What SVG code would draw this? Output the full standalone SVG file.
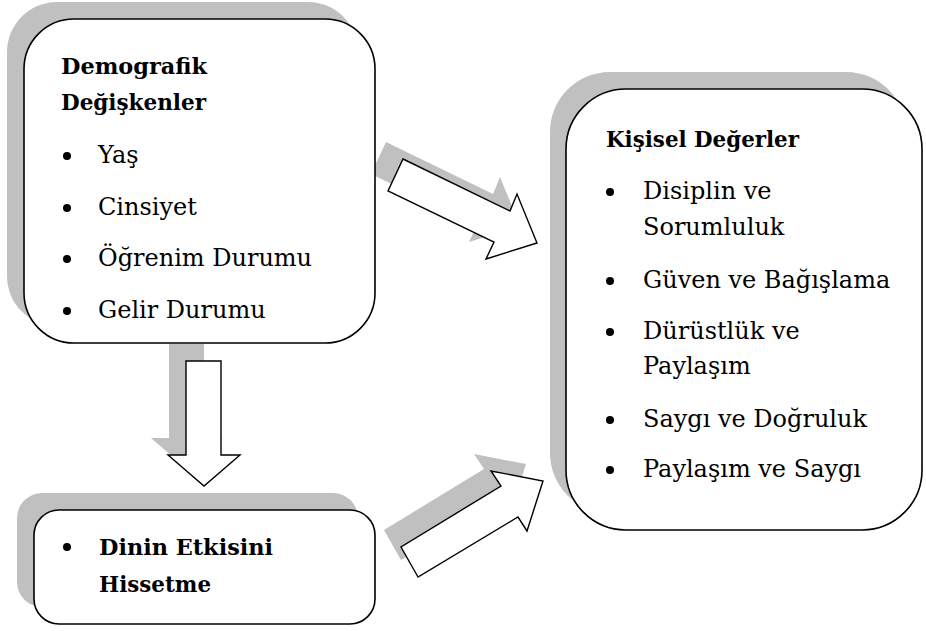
<svg xmlns="http://www.w3.org/2000/svg" width="926" height="631" viewBox="0 0 926 631">
<defs>
<style>
.shadow{fill:#c0c0c0;stroke:none}
.box{fill:#ffffff;stroke:#000000;stroke-width:1.6}
.arrow{fill:#ffffff;stroke:#000000;stroke-width:1.4;stroke-linejoin:miter}
.t{font-family:"DejaVu Serif","Liberation Serif",serif;font-size:24px;fill:#000000}
.b{font-family:"DejaVu Serif","Liberation Serif",serif;font-size:22px;font-weight:bold;fill:#000000}
.dot{fill:#000000}
</style>
<polygon id="a1" points="403,159 510,211 517,194 537,243 486,259 494,242 388,191"/>
<polygon id="a2" points="418,577 401,547 501,486 491,471 543,481 527,531 518,517"/>
<polygon id="a3" points="186,361 221,361 221,455 240,455 204,486 168,455 186,455"/>
</defs>
<rect width="926" height="631" fill="#ffffff"/>
<g id="shadows">
<rect class="shadow" x="7" y="2" width="351" height="324" rx="50"/>
<rect class="shadow" x="550" y="72" width="356" height="441" rx="60"/>
<rect class="shadow" x="17" y="493" width="341" height="114" rx="25"/>
<use href="#a1" class="shadow" transform="translate(-17,-17)"/>
<use href="#a2" class="shadow" transform="translate(-17,-17)"/>
<use href="#a3" class="shadow" transform="translate(-17,-17)"/>
</g>
<g id="node-demografik">
<rect class="box" x="24" y="19" width="351" height="324" rx="50"/>
<text class="b" x="61" y="74" textLength="146" lengthAdjust="spacingAndGlyphs">Demografik</text>
<text class="b" x="61" y="110" textLength="145" lengthAdjust="spacingAndGlyphs">Değişkenler</text>
<circle class="dot" cx="67" cy="156" r="4"/>
<text class="t" x="98" y="163">Yaş</text>
<circle class="dot" cx="67" cy="208" r="4"/>
<text class="t" x="98" y="215">Cinsiyet</text>
<circle class="dot" cx="67" cy="259" r="4"/>
<text class="t" x="98" y="266">Öğrenim Durumu</text>
<circle class="dot" cx="67" cy="311" r="4"/>
<text class="t" x="98" y="318">Gelir Durumu</text>
</g>
<g id="node-kisisel">
<rect class="box" x="566" y="89" width="356" height="441" rx="60"/>
<text class="b" x="606" y="147" textLength="193" lengthAdjust="spacingAndGlyphs">Kişisel Değerler</text>
<circle class="dot" cx="610" cy="192" r="4"/>
<text class="t" x="643" y="199">Disiplin ve</text>
<text class="t" x="643" y="235">Sorumluluk</text>
<circle class="dot" cx="610" cy="281" r="4"/>
<text class="t" x="643" y="288">Güven ve Bağışlama</text>
<circle class="dot" cx="610" cy="332" r="4"/>
<text class="t" x="643" y="339">Dürüstlük ve</text>
<text class="t" x="643" y="374">Paylaşım</text>
<circle class="dot" cx="610" cy="420" r="4"/>
<text class="t" x="643" y="427">Saygı ve Doğruluk</text>
<circle class="dot" cx="610" cy="470" r="4"/>
<text class="t" x="643" y="477">Paylaşım ve Saygı</text>
</g>
<g id="node-dinin">
<rect class="box" x="34" y="510" width="341" height="114" rx="25"/>
<circle class="dot" cx="67" cy="547" r="4"/>
<text class="b" x="99" y="555" textLength="174" lengthAdjust="spacingAndGlyphs">Dinin Etkisini</text>
<text class="b" x="99" y="592" textLength="112" lengthAdjust="spacingAndGlyphs">Hissetme</text>
</g>
<g id="connectors">
<use href="#a1" class="arrow"/>
<use href="#a2" class="arrow"/>
<use href="#a3" class="arrow"/>
</g>
</svg>
